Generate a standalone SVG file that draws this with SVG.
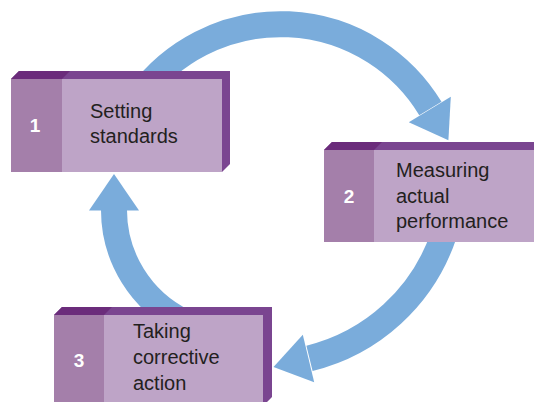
<svg xmlns="http://www.w3.org/2000/svg" width="534" height="402" viewBox="0 0 534 402">
<style>
.arc{fill:none;stroke:#7aacdb;stroke-width:26;stroke-linecap:butt}
.head{fill:#7aacdb}
.num{fill:#a47faa}
.front{fill:#bea4c7}
.topd{fill:#6b2c7b}
.side{fill:#7a4590}
.lbl{font-family:"Liberation Sans",Arial,sans-serif;font-size:20px;fill:#231f20}
.n{font-family:"Liberation Sans",Arial,sans-serif;font-size:19px;font-weight:bold;fill:#ffffff;text-anchor:middle}
</style>
<rect width="534" height="402" fill="#ffffff"/>
<g id="connectors">
<path class="arc" d="M140 95 A175 175 0 0 1 430.4 108.6"/>
<polygon class="head" points="450.8,96.8 448.4,140.3 408.8,122.2"/>
<path class="arc" d="M443.7 235 A189 189 0 0 1 309.5 358.3"/>
<polygon class="head" points="314.2,382.3 273.5,366.9 302.8,334.7"/>
<path class="arc" d="M184 322 A124.6 124.6 0 0 1 114 209"/>
<polygon class="head" points="89,210.5 114,174 139,210.5"/>
</g>
<g id="node1">
<polygon class="side" points="11,79 19,71 230,71 230,164 222,172 222,79"/>
<polygon class="topd" points="11,79 19,71 70,71 62,79"/>
<rect class="num" x="11" y="79" width="51" height="93"/>
<rect class="front" x="62" y="79" width="160" height="93"/>
<text class="n" x="35" y="132">1</text>
<text class="lbl" x="90" y="118">Setting</text>
<text class="lbl" x="90" y="143">standards</text>
</g>
<g id="node2">
<polygon class="side" points="324,150 332,142 545,142 545,150"/>
<polygon class="topd" points="324,150 332,142 382,142 374,150"/>
<rect class="num" x="324" y="150" width="50" height="92"/>
<rect class="front" x="374" y="150" width="170" height="92"/>
<text class="n" x="349" y="203">2</text>
<text class="lbl" x="396" y="177">Measuring</text>
<text class="lbl" x="396" y="202.5">actual</text>
<text class="lbl" x="396" y="228">performance</text>
</g>
<g id="node3">
<polygon class="side" points="54,315 62,307 272,307 272,397 263,406 263,315"/>
<polygon class="topd" points="54,315 62,307 112,307 104,315"/>
<rect class="num" x="54" y="315" width="50" height="92"/>
<rect class="front" x="104" y="315" width="159" height="92"/>
<text class="n" x="79" y="367">3</text>
<text class="lbl" x="133" y="338">Taking</text>
<text class="lbl" x="133" y="364">corrective</text>
<text class="lbl" x="133" y="390">action</text>
</g>
</svg>
